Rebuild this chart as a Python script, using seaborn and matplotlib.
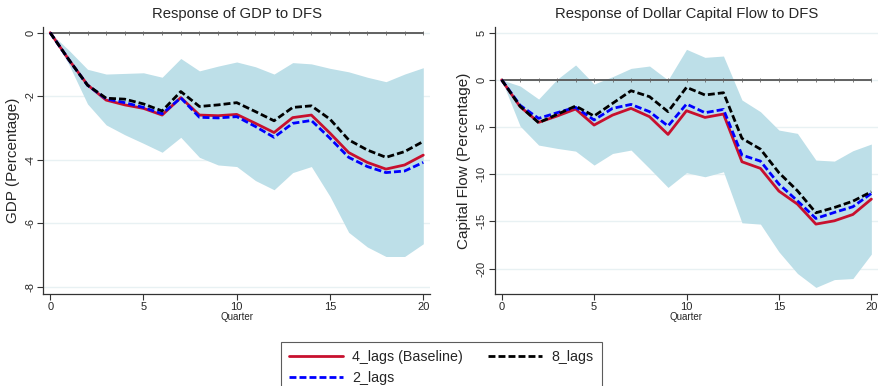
import numpy as np
import pandas as pd
import matplotlib
matplotlib.use("Agg")
import matplotlib.pyplot as plt
import seaborn as sns

quarters = list(range(21))

gdp_base = [0, -0.85, -1.64, -2.12, -2.27, -2.38, -2.59, -2.04, -2.59, -2.61, -2.57,
            -2.85, -3.14, -2.67, -2.59, -3.16, -3.77, -4.08, -4.29, -4.16, -3.85]
gdp_2lags = [0, -0.85, -1.65, -2.08, -2.20, -2.35, -2.55, -2.05, -2.66, -2.68, -2.64,
             -2.95, -3.29, -2.85, -2.76, -3.32, -3.92, -4.21, -4.40, -4.35, -4.08]
gdp_8lags = [0, -0.85, -1.65, -2.06, -2.09, -2.24, -2.46, -1.85, -2.32, -2.27, -2.20,
             -2.48, -2.77, -2.35, -2.30, -2.72, -3.37, -3.69, -3.92, -3.74, -3.42]
gdp_upper = [0, -0.55, -1.15, -1.30, -1.28, -1.26, -1.40, -0.81, -1.20, -1.05, -0.92,
             -1.07, -1.30, -0.94, -0.98, -1.12, -1.23, -1.40, -1.54, -1.30, -1.10]
gdp_lower = [0, -1.00, -2.24, -2.90, -3.21, -3.48, -3.76, -3.29, -3.92, -4.16, -4.21,
             -4.65, -4.94, -4.40, -4.21, -5.15, -6.28, -6.74, -7.04, -7.04, -6.64]

cf_base = [0, -2.84, -4.50, -3.83, -3.09, -4.79, -3.73, -3.02, -3.90, -5.78, -3.27,
           -3.98, -3.62, -8.68, -9.38, -11.79, -13.17, -15.29, -14.94, -14.27, -12.64]
cf_2lags = [0, -2.70, -4.08, -3.48, -2.91, -4.25, -3.02, -2.60, -3.37, -4.89, -2.56,
            -3.48, -3.13, -7.97, -8.61, -11.05, -12.82, -14.69, -14.05, -13.45, -12.04]
cf_8lags = [0, -2.80, -4.54, -3.66, -2.77, -3.83, -2.49, -1.15, -1.78, -3.37, -0.79,
            -1.60, -1.36, -6.20, -7.34, -9.84, -11.75, -14.09, -13.53, -12.86, -11.86]
cf_upper = [0, -0.65, -2.03, 0.06, 1.58, -0.44, 0.34, 1.22, 1.47, -0.01, 3.24,
            2.39, 2.53, -2.13, -3.37, -5.32, -5.67, -8.50, -8.61, -7.51, -6.80]
cf_lower = [0, -4.90, -6.91, -7.26, -7.55, -9.03, -7.80, -7.44, -9.39, -11.40, -9.84,
            -10.27, -9.74, -15.15, -15.29, -18.23, -20.52, -22.00, -21.17, -21.06, -18.47]

series_names = ["4_lags (Baseline)", "2_lags", "8_lags"]
titles = ["Response of GDP to DFS", "Response of Dollar Capital Flow to DFS"]
ylabels = ["GDP (Percentage)", "Capital Flow (Percentage)"]
xticks = [0, 5, 10, 15, 20]
gdp_yticks = [0, -2, -4, -6, -8]
cf_yticks = [5, 0, -5, -10, -15, -20]

sns.set_theme(style="white")
plt.rcParams["font.family"] = ["Liberation Sans", "DejaVu Sans"]

palette = {"4_lags (Baseline)": "#C8102E", "2_lags": "#0000FF", "8_lags": "#000000"}
dashes = {"4_lags (Baseline)": "", "2_lags": (2.5, 1.1), "8_lags": (2.5, 1.1)}

fig = plt.figure(figsize=(8.79, 3.86), dpi=100)
ax1 = fig.add_axes([43.5 / 879, 1 - 294 / 386, (430 - 43.5) / 879, (294 - 26.7) / 386])
ax2 = fig.add_axes([495 / 879, 1 - 294 / 386, (878 - 495) / 879, (294 - 26.7) / 386])

panels = [
    (ax1, [gdp_base, gdp_2lags, gdp_8lags], gdp_upper, gdp_lower, gdp_yticks, (-8.22, 0.19)),
    (ax2, [cf_base, cf_2lags, cf_8lags], cf_upper, cf_lower, cf_yticks, (-22.7, 5.64)),
]

for i, (ax, ser, up, lo, yt, ylim) in enumerate(panels):
    for y in yt:
        ax.axhline(y, color="#e8f1f3", lw=1.0, zorder=0)
    ax.fill_between(quarters, lo, up, color="#bddfe8", lw=0, zorder=1)
    ax.plot(quarters, [0] * len(quarters), color="#555555", lw=1.3, marker="|",
            markersize=2.5, markeredgewidth=0.6, markeredgecolor="#666666", zorder=2)
    df = pd.DataFrame({
        "Quarter": quarters * 3,
        "value": ser[0] + ser[1] + ser[2],
        "series": sum([[n] * len(quarters) for n in series_names], []),
    })
    sns.lineplot(data=df, x="Quarter", y="value", hue="series", style="series",
                 palette=palette, dashes=dashes, hue_order=series_names,
                 style_order=series_names, lw=2.0, ax=ax, legend=(i == 0), zorder=3)
    ax.set_xlim(-0.36, 20.36)
    ax.set_ylim(*ylim)
    ax.set_xticks(xticks)
    ax.set_yticks(yt)
    ax.set_yticklabels([str(v) for v in yt], rotation=90, va="center")
    ax.tick_params(axis="both", labelsize=8, length=4, width=0.8, color="#333333",
                   direction="out", bottom=True, left=True, pad=2)
    for s in ["top", "right"]:
        ax.spines[s].set_visible(False)
    for s in ["left", "bottom"]:
        ax.spines[s].set_color("#333333")
        ax.spines[s].set_linewidth(0.9)
    ax.set_xlabel("Quarter", fontsize=7, labelpad=0)
    ax.set_ylabel(ylabels[i], fontsize=11, labelpad=4)
    ax.set_title(titles[i], fontsize=10.7, pad=6)

handles, labels = ax1.get_legend_handles_labels()
ax1.get_legend().remove()
leg = fig.legend(handles, labels, loc="upper center", bbox_to_anchor=(441.5 / 879, 1 - 341.5 / 386),
                 ncol=2, fontsize=10.3, frameon=True, fancybox=False, edgecolor="#333333",
                 handlelength=3.78, columnspacing=1.75, handletextpad=0.63, labelspacing=0.48,
                 borderpad=0.6, borderaxespad=0)
leg.get_frame().set_linewidth(0.8)

fig.savefig("out.png", dpi=100)
